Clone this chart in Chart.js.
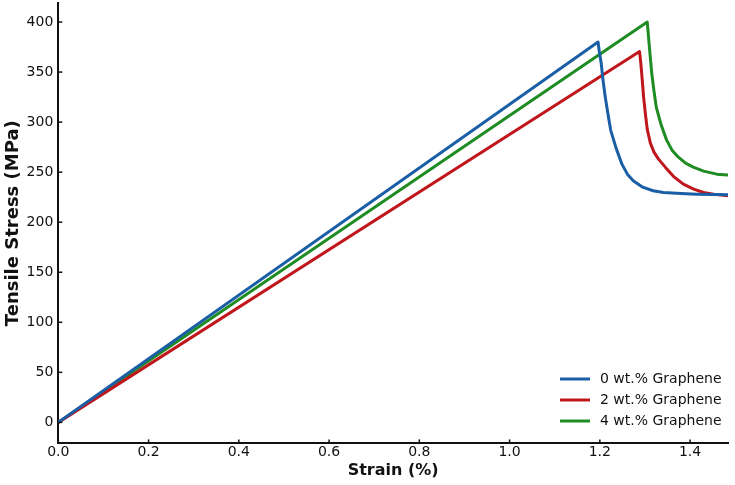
<!DOCTYPE html>
<html>
<head>
<meta charset="utf-8">
<script src="https://cdn.jsdelivr.net/npm/chart.js@4/dist/chart.umd.min.js"></script>
<style>
  html, body { margin: 0; padding: 0; background: #fff; }
  #wrap { width: 735px; height: 485px; }
</style>
</head>
<body>
<div id="wrap"><canvas id="c"></canvas></div>
<script>
// stress-strain curves
const labels = ['0 wt.% Graphene', '2 wt.% Graphene', '4 wt.% Graphene'];
const colors = ['#1a5ea6', '#c0171d', '#1e8c22'];

const strain0 = [0, 1.196, 1.199, 1.203, 1.207, 1.212, 1.218, 1.224, 1.236, 1.249, 1.261, 1.274, 1.295, 1.318, 1.341, 1.380, 1.415, 1.450, 1.484];
const stress0 = [0, 380, 370, 359, 342, 325, 308, 292, 274, 258, 248, 241.5, 235, 231.4, 229.7, 228.7, 228, 227.6, 227.3];

const strain2 = [0, 1.288, 1.291, 1.294, 1.297, 1.301, 1.305, 1.312, 1.320, 1.330, 1.345, 1.365, 1.385, 1.408, 1.430, 1.455, 1.484];
const stress2 = [0, 370.5, 358, 342, 325, 308, 293, 279, 270, 263, 255, 245, 238, 233, 229.7, 227.8, 226.3];

const strain4 = [0, 1.305, 1.307, 1.310, 1.315, 1.320, 1.325, 1.336, 1.348, 1.360, 1.374, 1.390, 1.407, 1.430, 1.459, 1.484];
const stress4 = [0, 400, 390, 374, 349, 331, 315, 297, 282, 272, 265, 259, 255, 251, 248, 247.2];

const xTicks = [0, 0.2, 0.4, 0.6, 0.8, 1.0, 1.2, 1.4];
const yTicks = [0, 50, 100, 150, 200, 250, 300, 350, 400];

const FONT = 'DejaVu Sans';
const INK = '#111';

function pts(xs, ys) { return xs.map((x, i) => ({ x, y: ys[i] })); }

const series = [pts(strain0, stress0), pts(strain2, stress2), pts(strain4, stress4)];

// small inward ticks + legend inside the plot, bottom right
const extras = {
  id: 'extras',
  afterDatasetsDraw(chart) {
    const { ctx, chartArea: a, scales: { x, y } } = chart;
    ctx.save();
    ctx.strokeStyle = INK;
    ctx.lineWidth = 1.5;
    xTicks.forEach(v => {
      const px = x.getPixelForValue(v);
      ctx.beginPath(); ctx.moveTo(px, a.bottom); ctx.lineTo(px, a.bottom - 4); ctx.stroke();
    });
    yTicks.forEach(v => {
      const py = y.getPixelForValue(v);
      ctx.beginPath(); ctx.moveTo(a.left, py); ctx.lineTo(a.left + 4, py); ctx.stroke();
    });

    ctx.font = '14px ' + FONT;
    ctx.textBaseline = 'middle';
    ctx.fillStyle = INK;
    labels.forEach((lab, i) => {
      const ly = 379 + i * 21;
      ctx.strokeStyle = colors[i];
      ctx.lineWidth = 3;
      ctx.beginPath(); ctx.moveTo(560, ly); ctx.lineTo(590, ly); ctx.stroke();
      ctx.fillText(lab, 600, ly);
    });
    ctx.restore();
  }
};

new Chart(document.getElementById('c'), {
  type: 'scatter',
  data: {
    datasets: series.map((d, i) => ({
      label: labels[i],
      data: d,
      showLine: true,
      borderColor: colors[i],
      backgroundColor: colors[i],
      borderWidth: 3,
      borderJoinStyle: 'round',
      pointRadius: 0,
      tension: 0
    }))
  },
  options: {
    responsive: true,
    maintainAspectRatio: false,
    animation: false,
    layout: { padding: { left: 3, right: 7, top: 3, bottom: 5 } },
    plugins: {
      legend: { display: false },
      tooltip: { enabled: false }
    },
    scales: {
      x: {
        type: 'linear',
        min: 0,
        max: 1.484,
        afterBuildTicks: s => { s.ticks = xTicks.map(v => ({ value: v })); },
        grid: { display: false, drawTicks: false },
        border: { display: true, color: INK, width: 2 },
        ticks: {
          color: INK, padding: 1,
          font: { family: FONT, size: 14, lineHeight: 1.1 },
          callback: v => v.toFixed(1)
        },
        title: {
          display: true, text: 'Strain (%)', color: INK,
          font: { family: FONT, size: 16, weight: 'bold' },
          padding: { top: 0, bottom: 0 }
        }
      },
      y: {
        min: -21,
        max: 419,
        afterBuildTicks: s => { s.ticks = yTicks.map(v => ({ value: v })); },
        afterFit: s => { s.paddingTop = 0; s.paddingBottom = 0; },
        grid: { display: false, drawTicks: false },
        border: { display: true, color: INK, width: 2 },
        ticks: {
          color: INK, padding: 5,
          font: { family: FONT, size: 14 }
        },
        title: {
          display: true, text: 'Tensile Stress (MPa)', color: INK,
          font: { family: FONT, size: 18, weight: 'bold' },
          padding: { top: 0, bottom: -3 }
        }
      }
    }
  },
  plugins: [extras]
});
</script>
</body>
</html>
